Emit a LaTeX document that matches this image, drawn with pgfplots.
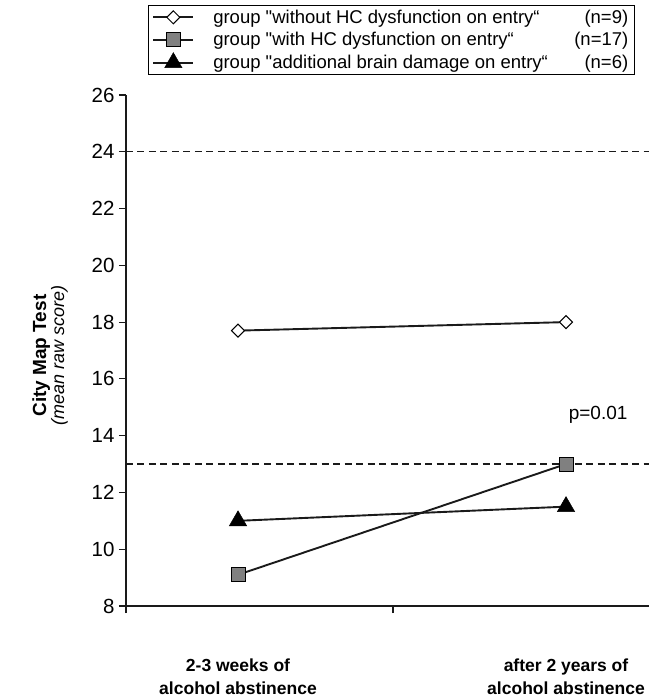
\documentclass[border=0pt]{standalone}
\usepackage{pgfplots}
\pgfplotsset{compat=1.18}
\usepackage{fontspec}
\setmainfont{Liberation Sans}
\newfontfamily\nolig{Liberation Sans}[Ligatures=TeXOff]
\definecolor{sqgray}{HTML}{808080}
\definecolor{ln}{HTML}{1A1A1A}
\newcommand{\q}{{\nolig"}}
\begin{document}
\begin{tikzpicture}[x=1pt,y=1pt]
\path[use as bounding box] (-126,-93) rectangle (523,606);
\begin{axis}[
  anchor=south west, at={(0pt,0pt)},
  scale only axis, width=523pt, height=511pt,
  xmin=-0.3415, xmax=1.253, ymin=8, ymax=26,
  axis x line=bottom, axis y line=left,
  axis line style={-, line width=1.1pt, color=ln},
  xtick={-0.3415,0.4726}, xticklabels={},
  ytick={8,10,...,26},
  tick align=outside, major tick length=7pt,
  tick style={line width=1.1pt, color=ln},
  /pgf/number format/assume math mode=true,
  tick label style={font=\fontsize{20.5}{24}\selectfont},
  yticklabel style={xshift=-1pt},
  clip=false,
  every axis y label/.style={at={(axis description cs:-0.145,0.49)}, rotate=90, anchor=center, align=center},
  ylabel={{\fontsize{19}{22}\selectfont\bfseries City Map Test}\\{\fontsize{18}{20}\selectfont\itshape (mean raw score)}},
  legend style={at={(22pt,601pt)}, anchor=north west, draw=black, line width=0.8pt,
    font=\fontsize{18.5}{21}\selectfont, cells={anchor=west}, inner xsep=4pt, inner ysep=2.5pt,
    row sep=3.5pt},
  legend image code/.code={%
    \draw[mark repeat=2,mark phase=2,#1] plot coordinates {(0pt,0pt) (20pt,0pt) (40pt,0pt)};},
]
\addplot[ln, line width=1.9pt, mark=square*, mark size=4.6pt,
  mark options={rotate=45, fill=white, draw=black, line width=1pt}]
  coordinates {(0,17.7) (1,18.0)};
\addlegendentry{\hspace{17pt}\makebox[353pt][l]{group \q without HC dysfunction on entry“}\makebox[62pt][r]{(n=9)}\hspace{10pt}}
\addplot[ln, line width=1.9pt, mark=square*, mark size=7pt,
  mark options={fill=sqgray, draw=black, line width=0.8pt}]
  coordinates {(0,9.1) (1,13.0)};
\addlegendentry{\hspace{17pt}\makebox[353pt][l]{group \q with HC dysfunction on entry“}\makebox[62pt][r]{(n=17)}\hspace{10pt}}
\addplot[ln, line width=1.9pt, mark=triangle*, mark size=10pt,
  mark options={fill=black, draw=black, line width=0.5pt}]
  coordinates {(0,11.0) (1,11.5)};
\addlegendentry{\hspace{17pt}\makebox[353pt][l]{group \q additional brain damage on entry“}\makebox[62pt][r]{(n=6)}\hspace{10pt}}
\addplot[ln, line width=1.3pt, dash pattern=on 7pt off 4.5pt, forget plot]
  coordinates {(-0.3415,24) (1.253,24)};
\addplot[ln, line width=1.3pt, dash pattern=on 7pt off 4.5pt, forget plot]
  coordinates {(-0.3415,13) (1.253,13)};
\node[font=\fontsize{19}{22}\selectfont] at (axis cs:1.098,14.73) {p=0.01};
\node[anchor=north, align=center, font=\fontsize{17.5}{23}\selectfont\bfseries, yshift=-49pt] at (axis cs:0,8) {2-3 weeks of\\alcohol abstinence};
\node[anchor=north, align=center, font=\fontsize{17.5}{23}\selectfont\bfseries, yshift=-49pt] at (axis cs:1,8) {after 2 years of\\alcohol abstinence};
\end{axis}
\end{tikzpicture}
\end{document}
